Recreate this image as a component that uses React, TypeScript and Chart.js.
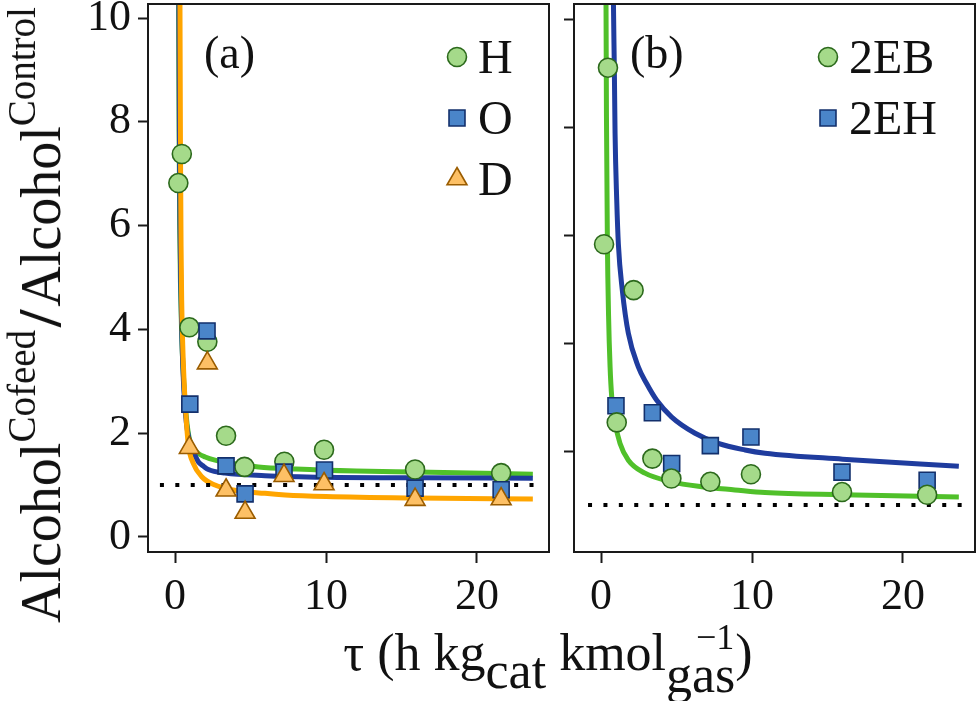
import React, { useEffect, useRef } from "react";
import { Chart, registerables } from "chart.js";

Chart.register(...registerables);

const FONT = "'Liberation Serif', 'Times New Roman', serif";

// ---------- Panel (a) measured data ----------
const tauH = [0.22, 0.45, 0.95, 2.14, 3.38, 4.6, 7.24, 9.87, 15.9, 21.6];
const ratioH = [6.82, 7.38, 4.04, 3.76, 1.95, 1.35, 1.45, 1.68, 1.3, 1.23];
const tauO = [0.98, 2.12, 3.38, 4.64, 7.22, 9.9, 15.9, 21.6];
const ratioO = [2.56, 3.97, 1.37, 0.83, 1.25, 1.29, 0.94, 0.91];
const tauD = [0.95, 2.14, 3.38, 4.64, 7.22, 9.87, 15.9, 21.6];
const ratioD = [1.72, 3.35, 0.9, 0.47, 1.18, 1.02, 0.72, 0.73];

// ---------- Panel (a) fitted curves ----------
const fitHx = [0.22, 0.24, 0.27, 0.31, 0.36, 0.44, 0.52, 0.62, 0.75, 0.88, 0.99, 1.25, 1.54, 2.0, 2.65, 3.75, 5.52, 8, 12, 16, 23.7];
const fitHy = [12.5, 10.0, 7.8, 6.0, 4.9, 3.9, 3.3, 2.8, 2.3, 2.0, 1.85, 1.7, 1.61, 1.54, 1.48, 1.42, 1.35, 1.31, 1.27, 1.25, 1.21];
const fitOx = [0.24, 0.26, 0.29, 0.33, 0.38, 0.45, 0.53, 0.63, 0.75, 0.88, 1.05, 1.28, 1.54, 1.9, 2.21, 3.31, 5.96, 10, 16, 23.7];
const fitOy = [12.5, 10.0, 7.8, 6.0, 4.9, 3.9, 3.2, 2.6, 2.2, 1.95, 1.75, 1.6, 1.45, 1.36, 1.3, 1.23, 1.18, 1.15, 1.14, 1.13];
const fitDx = [0.31, 0.33, 0.36, 0.4, 0.44, 0.51, 0.6, 0.71, 0.88, 1.21, 1.77, 2.65, 3.75, 5.96, 7.3, 10, 16, 23.7];
const fitDy = [12.5, 10.0, 7.5, 5.6, 4.57, 3.7, 3.0, 2.4, 1.78, 1.42, 1.16, 1.0, 0.91, 0.84, 0.81, 0.78, 0.75, 0.73];

// ---------- Panel (b) measured data ----------
const tau2EB = [0.2, 0.46, 1.04, 2.16, 3.4, 4.66, 7.24, 9.93, 15.96, 21.6];
const ratio2EB = [5.83, 9.1, 2.53, 4.98, 1.86, 1.49, 1.43, 1.57, 1.24, 1.19];
const tau2EH = [0.99, 3.4, 4.68, 7.24, 9.93, 15.96, 21.6];
const ratio2EH = [2.84, 2.71, 1.77, 2.1, 2.26, 1.61, 1.46];

// ---------- Panel (b) fitted curves ----------
const fit2EBx = [0.3, 0.33, 0.36, 0.42, 0.5, 0.6, 0.71, 0.93, 1.26, 1.81, 2.91, 4.68, 6.67, 8.87, 10.86, 16, 23.7];
const fit2EBy = [14, 10.3, 8.2, 5.9, 4.5, 3.56, 3.0, 2.53, 2.14, 1.83, 1.59, 1.43, 1.34, 1.28, 1.23, 1.19, 1.15];
const fit2EHx = [0.78, 0.82, 0.88, 0.93, 1.04, 1.15, 1.41, 1.81, 2.47, 3.02, 3.69, 4.68, 6.23, 7.77, 9.54, 10.86, 16, 23.7];
const fit2EHy = [12, 10.35, 9.12, 7.88, 6.65, 5.83, 4.98, 4.18, 3.56, 3.25, 2.94, 2.63, 2.33, 2.14, 2.02, 1.96, 1.85, 1.72];

// ---------- axes ----------
const xTicks = [0, 10, 20];
const yTicksA = [0, 2, 4, 6, 8, 10];
const yTicksB = [2, 4, 6, 8, 10];
const xMin = -1.79;
const xMax = 24.77;
const yMinA = -0.29;
const yMaxA = 10.27;
const yMinB = 0.13;
const yMaxB = 10.28;
const controlLevel = 1.0;
const controlSpanA = [-1.0, 24.0];
const controlSpanB = [-0.86, 24.1];

// ---------- colours ----------
const GREEN_LINE = "#50c02a";
const BLUE_LINE = "#1f3c9e";
const ORANGE_LINE = "#ffa500";
const CIRCLE_FILL = "#a5da8a";
const CIRCLE_EDGE = "#2c6a1c";
const SQUARE_FILL = "#4a85c9";
const SQUARE_EDGE = "#13306c";
const TRI_FILL = "#fdc065";
const TRI_EDGE = "#9a5c00";
const INK = "#111111";

const pts = (xs: number[], ys: number[]) => xs.map((x, i) => ({ x, y: ys[i] }));

function fitLine(xs: number[], ys: number[], color: string, order: number) {
  return {
    type: "line" as const,
    data: pts(xs, ys),
    borderColor: color,
    backgroundColor: color,
    borderWidth: 5,
    pointRadius: 0,
    showLine: true,
    fill: false,
    cubicInterpolationMode: "monotone" as const,
    order,
  };
}

function controlLine(span: number[]) {
  return {
    type: "line" as const,
    data: pts(span, [controlLevel, controlLevel]),
    borderColor: "#000",
    borderWidth: 4,
    borderDash: [4, 11.4],
    borderCapStyle: "butt" as const,
    pointRadius: 0,
    showLine: true,
    fill: false,
    order: 6,
  };
}

type Marker = "circle" | "rect" | "triangle";
const markerStyles: Record<Marker, { r: number; fill: string; edge: string }> = {
  circle: { r: 9.5, fill: CIRCLE_FILL, edge: CIRCLE_EDGE },
  rect: { r: 11.3, fill: SQUARE_FILL, edge: SQUARE_EDGE },
  triangle: { r: 11.5, fill: TRI_FILL, edge: TRI_EDGE },
};

function markers(xs: number[], ys: number[], label: string, m: Marker, order: number) {
  const s = markerStyles[m];
  return {
    type: "scatter" as const,
    label,
    data: pts(xs, ys),
    pointStyle: m,
    pointRadius: s.r,
    backgroundColor: s.fill,
    borderColor: s.edge,
    borderWidth: 1.6,
    showLine: false,
    order,
  };
}

function drawMarker(ctx: CanvasRenderingContext2D, m: Marker, x: number, y: number) {
  const s = markerStyles[m];
  ctx.beginPath();
  if (m === "circle") {
    ctx.arc(x, y, s.r, 0, Math.PI * 2);
  } else if (m === "rect") {
    const h = s.r * Math.SQRT1_2;
    ctx.rect(x - h, y - h, 2 * h, 2 * h);
  } else {
    ctx.moveTo(x, y - s.r);
    ctx.lineTo(x + 0.866 * s.r, y + 0.5 * s.r);
    ctx.lineTo(x - 0.866 * s.r, y + 0.5 * s.r);
    ctx.closePath();
  }
  ctx.fillStyle = s.fill;
  ctx.strokeStyle = s.edge;
  ctx.lineWidth = 1.6;
  ctx.fill();
  ctx.stroke();
}

function decor(panelLabel: string, legend: { text: string; m: Marker }[], legendDx: number) {
  return {
    id: "decor",
    afterDatasetsDraw(chart: any) {
      const { ctx, chartArea: a } = chart;
      ctx.save();
      ctx.lineWidth = 2;
      ctx.strokeStyle = "#1a1a1a";
      ctx.strokeRect(a.left, a.top, a.right - a.left, a.bottom - a.top);
      ctx.fillStyle = INK;
      ctx.textBaseline = "alphabetic";
      ctx.textAlign = "left";
      ctx.font = `46px ${FONT}`;
      ctx.fillText(panelLabel, a.left + 56, a.top + 64);
      legend.forEach((it, i) => {
        const cy = a.top + 53 + i * 61;
        drawMarker(ctx, it.m, a.left + legendDx, cy);
        ctx.fillStyle = INK;
        ctx.font = `48px ${FONT}`;
        ctx.fillText(it.text, a.left + legendDx + 21, cy + 16);
      });
      ctx.restore();
    },
  };
}

function zeroPad(s: any) {
  s.paddingTop = 0;
  s.paddingBottom = 0;
  s.paddingLeft = 0;
  s.paddingRight = 0;
}

function axes(yMin: number, yMax: number, yTicks: number[], yWidth: number, showYLabels: boolean) {
  const tickFont = { family: FONT, size: 44 };
  const grid = {
    display: true,
    drawOnChartArea: false,
    drawTicks: true,
    tickLength: 10,
    tickWidth: 2,
    tickColor: "#1a1a1a",
    color: "rgba(0,0,0,0)",
  };
  return {
    x: {
      type: "linear" as const,
      min: xMin,
      max: xMax,
      afterBuildTicks: (s: any) => {
        s.ticks = xTicks.map((v) => ({ value: v }));
      },
      afterFit: (s: any) => {
        s.height = 149;
        zeroPad(s);
      },
      ticks: { font: tickFont, color: INK, padding: 8, maxRotation: 0, autoSkip: false },
      grid: { ...grid, tickLength: 11 },
      border: { display: false },
    },
    y: {
      type: "linear" as const,
      min: yMin,
      max: yMax,
      afterBuildTicks: (s: any) => {
        s.ticks = yTicks.map((v) => ({ value: v }));
      },
      afterFit: (s: any) => {
        s.width = yWidth;
        zeroPad(s);
      },
      ticks: {
        font: tickFont,
        color: INK,
        padding: 7,
        autoSkip: false,
        callback: (v: any) => (showYLabels ? String(v) : ""),
      },
      grid,
      border: { display: false },
    },
  };
}

export default function App() {
  const refA = useRef<HTMLCanvasElement>(null);
  const refB = useRef<HTMLCanvasElement>(null);

  useEffect(() => {
    const chartA = new Chart(refA.current!, {
      type: "scatter",
      data: {
        datasets: [
          fitLine(fitHx, fitHy, GREEN_LINE, 12),
          fitLine(fitOx, fitOy, BLUE_LINE, 11),
          fitLine(fitDx, fitDy, ORANGE_LINE, 10),
          controlLine(controlSpanA),
          markers(tauH, ratioH, "H", "circle", 3),
          markers(tauO, ratioO, "O", "rect", 2),
          markers(tauD, ratioD, "D", "triangle", 1),
        ] as any,
      },
      options: {
        animation: false,
        responsive: false,
        devicePixelRatio: 1,
        events: [],
        layout: { autoPadding: false, padding: { top: 4, right: 11, left: 0, bottom: 0 } },
        plugins: { legend: { display: false }, tooltip: { enabled: false } },
        scales: axes(yMinA, yMaxA, yTicksA, 148, true) as any,
      },
      plugins: [
        decor("(a)", [
          { text: "H", m: "circle" },
          { text: "O", m: "rect" },
          { text: "D", m: "triangle" },
        ], 309),
      ],
    });
    const chartB = new Chart(refB.current!, {
      type: "scatter",
      data: {
        datasets: [
          fitLine(fit2EHx, fit2EHy, BLUE_LINE, 12),
          fitLine(fit2EBx, fit2EBy, GREEN_LINE, 11),
          controlLine(controlSpanB),
          markers(tau2EH, ratio2EH, "2EH", "rect", 2),
          markers(tau2EB, ratio2EB, "2EB", "circle", 1),
        ] as any,
      },
      options: {
        animation: false,
        responsive: false,
        devicePixelRatio: 1,
        events: [],
        layout: { autoPadding: false, padding: { top: 4, right: 5, left: 0, bottom: 0 } },
        plugins: { legend: { display: false }, tooltip: { enabled: false } },
        scales: axes(yMinB, yMaxB, yTicksB, 14, false) as any,
      },
      plugins: [
        decor("(b)", [
          { text: "2EB", m: "circle" },
          { text: "2EH", m: "rect" },
        ], 254),
      ],
    });
    return () => {
      chartA.destroy();
      chartB.destroy();
    };
  }, []);

  const supStyle: React.CSSProperties = {
    fontSize: 39,
    position: "relative",
    top: -25,
    verticalAlign: "baseline",
  };

  return (
    <div
      style={{
        position: "absolute",
        left: 0,
        top: 0,
        width: 980,
        height: 701,
        background: "#fff",
        overflow: "hidden",
        fontFamily: FONT,
        color: INK,
      }}
    >
      <canvas ref={refA} width={560} height={701} style={{ position: "absolute", left: 0, top: 0 }} />
      <canvas ref={refB} width={420} height={701} style={{ position: "absolute", left: 560, top: 0 }} />
      <div
        style={{
          position: "absolute",
          left: 39,
          top: 315,
          transform: "translate(-50%, -50%) rotate(-90deg)",
          whiteSpace: "nowrap",
          fontSize: 56,
          lineHeight: 1,
        }}
      >
        Alcohol<span style={supStyle}>Cofeed</span>
        <span style={{ fontWeight: "bold", fontSize: 62, margin: "0 3px" }}>/</span>
        Alcohol<span style={supStyle}>Control</span>
      </div>
      <div
        style={{
          position: "absolute",
          left: 548,
          top: 627,
          transform: "translateX(-50%)",
          whiteSpace: "nowrap",
          fontSize: 52,
          lineHeight: 1,
        }}
      >
        τ (h kg<span style={{ position: "relative", top: 18 }}>cat</span> kmol
        <span style={{ position: "relative", display: "inline-block" }}>
          <span style={{ position: "relative", top: 22 }}>gas</span>
          <span style={{ position: "absolute", left: 30, top: -8, fontSize: 36 }}>−1</span>
        </span>
        )
      </div>
    </div>
  );
}
